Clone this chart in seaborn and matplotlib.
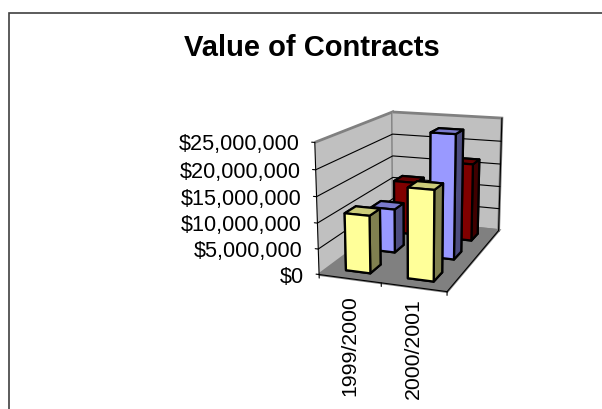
import numpy as np
import matplotlib
matplotlib.use("Agg")
import matplotlib.pyplot as plt
from matplotlib import patches
from mpl_toolkits.mplot3d import proj3d
import seaborn as sns

seasons = ["1999/2000", "2000/2001"]
yellow_vals = [11200000, 17200000]
blue_vals = [9000000, 25000000]
red_vals = [11500000, 16500000]
z_ticks = [0, 5000000, 10000000, 15000000, 20000000, 25000000]

sns.set_style("white", {"axes.edgecolor": "black"})
plt.rcParams["font.family"] = ["Liberation Sans", "DejaVu Sans"]
plt.rcParams["text.color"] = "black"

W, H = 602, 409
fig = plt.figure(figsize=(W / 100, H / 100), dpi=100)
ax = fig.add_axes([286.792 / W, 88.120 / H, 252.634 / W, 252.634 / H],
                  projection="3d", computed_zorder=False)
ax.set_xlim(0, 2)
ax.set_ylim(0, 3)
ax.set_zlim(0, 25000000)
# camera fitted to the frame corners of the reference
ax.view_init(elev=14.548, azim=-70.413, roll=-0.065)
ax.set_proj_type("persp", focal_length=np.exp(-0.572))
ax.set_box_aspect((1, 1.522, 1.002))

bar_w = 0.4
face_colors = {
    "y": ["#808050", "#CCCC7A", "#FFFF99", "#FFFF99", "#808050", "#808050"],
    "b": ["#4D4D80", "#7A7ACC", "#9999FF", "#9999FF", "#4D4D80", "#4D4D80"],
    "r": ["#400000", "#660000", "#800000", "#800000", "#400000", "#400000"],
}
series = [("y", yellow_vals), ("b", blue_vals), ("r", red_vals)]
order = 10
for depth, (key, vals) in reversed(list(enumerate(series))):
    for i, v in enumerate(vals):
        order += 1
        ax.bar3d(i + 0.3, depth + 0.3, 0, bar_w, bar_w, v, color=face_colors[key],
                 edgecolor="black", linewidth=1.6, shade=False, zorder=order)

for axis, c in ((ax.xaxis, "#C0C0C0"), (ax.yaxis, "#C0C0C0"), (ax.zaxis, "#808080")):
    axis.set_pane_color(c)
    axis.pane.set_edgecolor("#808080")
    axis.pane.set_linewidth(2)
ax.grid(False)
ax.set_xticks([])
ax.set_yticks([])
ax.set_zticks([])

# mplot3d ticks point the wrong way for this look, so gridlines and ticks are drawn here
for v in z_ticks:
    if 0 < v < z_ticks[-1]:
        ax.plot([0, 0, 2], [0, 3, 3], [v, v, v], color="black", lw=0.8, zorder=2)
    ax.plot([-0.05, 0], [0, 0], [v, v], color="black", lw=0.8, zorder=2)
ax.plot([0, 0], [0, 0], [0, z_ticks[-1]], color="black", lw=0.8, zorder=2)
for x in range(len(seasons) + 1):
    ax.plot([x, x], [0, 0], [-700000, 0], color="black", lw=0.8, zorder=2)

# tick labels sit at a fixed pixel offset from the projected axis
M = ax.get_proj()
zt = np.array(z_ticks, float)
px, py, _ = proj3d.proj_transform(np.zeros(6), np.zeros(6), zt, M)
for v, x0, y0 in zip(z_ticks, px, py):
    ax.annotate("$" + format(v, ","), xy=(x0, y0), xycoords="data", xytext=(-11, -1.8),
                textcoords="offset points", ha="right", va="center", fontsize=15.6, color="black")

# category labels hang straight down from the front edge
label_drop = [-12, -7.7]
px, py, _ = proj3d.proj_transform(np.array([0.5, 1.5]), np.zeros(2), np.zeros(2), M)
for s, x0, y0, d in zip(seasons, px, py, label_drop):
    ax.annotate(s, xy=(x0, y0), xycoords="data", xytext=(0, d), textcoords="offset points",
                rotation=90, ha="center", va="top", fontsize=15.3, color="black")

fig.text(312 / W, 1 - 48 / H, "Value of Contracts", fontsize=21, fontweight="bold",
         ha="center", va="center", color="black")
fig.add_artist(patches.Rectangle((9 / W, -0.1), 1.1, 1.1 - 13 / H, transform=fig.transFigure,
                                 fill=False, edgecolor="#404040", linewidth=1.2))
fig.savefig("out.png", dpi=100)
